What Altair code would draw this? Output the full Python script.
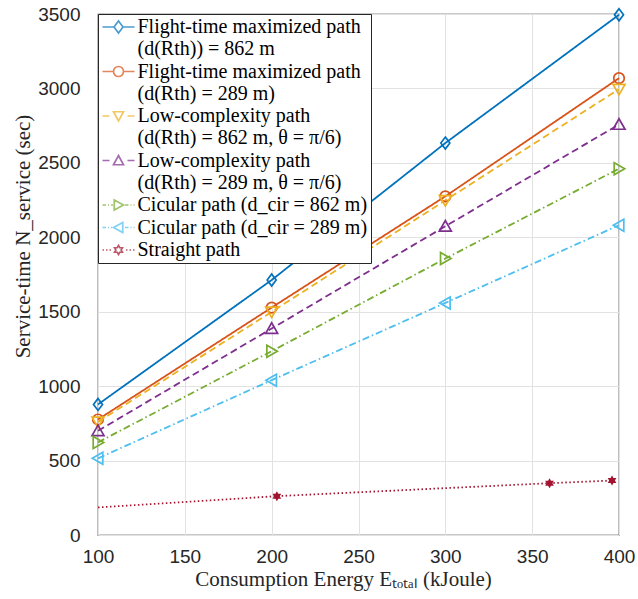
import altair as alt
import pandas as pd

# ---------------- data ----------------
energy = [100, 200, 300, 400]

series_names = [
    "Flight-time maximized path|(d(Rth)) = 862 m",
    "Flight-time maximized path|(d(Rth) = 289 m)",
    "Low-complexity path|(d(Rth) = 862 m, θ = π/6)",
    "Low-complexity path|(d(Rth) = 289 m, θ = π/6)",
    "Cicular path (d_cir = 862 m)",
    "Cicular path (d_cir = 289 m)",
    "Straight path",
]

ft_862 = [877, 1713, 2633, 3495]
ft_289 = [776, 1528, 2275, 3069]
lc_862 = [760, 1499, 2248, 2995]
lc_289 = [700, 1387, 2074, 2758]
circ_862 = [622, 1235, 1857, 2461]
circ_289 = [515, 1040, 1559, 2081]

straight_energy = [100, 203, 360, 396]
straight_time = [185, 261, 348, 366]
straight_marked = [False, True, True, True]

x_ticks = [100, 150, 200, 250, 300, 350, 400]
y_ticks = [0, 500, 1000, 1500, 2000, 2500, 3000, 3500]

# ---------------- styles ----------------
colors = ["#0072BD", "#D95319", "#EDB120", "#7E2F8E", "#77AC30", "#4DBEEE", "#A2142F"]
dashes = [[1, 0], [1, 0], [7, 4], [7, 4], [7, 3, 1.5, 3], [7, 3, 1.5, 3], [1.5, 2.5]]

HEX = ("M0,-1L0.289,-0.5L0.866,-0.5L0.577,0L0.866,0.5L0.289,0.5L0,1"
       "L-0.289,0.5L-0.866,0.5L-0.577,0L-0.866,-0.5L-0.289,-0.5Z")
marker_shapes = [
    "M0,-1L0.75,0L0,1L-0.75,0Z",
    "circle",
    "M-1,-0.8L1,-0.8L0,0.95Z",
    "M-1,0.8L1,0.8L0,-0.95Z",
    "M-0.8,-1L0.95,0L-0.8,1Z",
    "M0.8,-1L-0.95,0L0.8,1Z",
    HEX,
]
marker_sizes = [144, 110, 144, 144, 144, 144, 100]

# legend symbols: line segment pattern + marker (unit = 5 px at size 100)
legend_shapes = [
    "M-3.2,0L-0.9,0M0.9,0L3.2,0M0,-1.2L0.9,0L0,1.2L-0.9,0Z",
    "M-3.2,0L-1,0M1,0L3.2,0M-1,0A1,1,0,1,1,1,0A1,1,0,1,1,-1,0Z",
    "M-3.2,0L-1.8,0M1.8,0L3.2,0M-1,-0.85L1,-0.85L0,1Z",
    "M-3.2,0L-1.8,0M1.8,0L3.2,0M-1,0.85L1,0.85L0,-1Z",
    "M-3.2,0L-2.5,0M-2.1,0L-1.9,0M-1.5,0L-1.1,0M-0.85,-1L1,0L-0.85,1Z"
    "M1.3,0L2.0,0M2.4,0L2.6,0M3.0,0L3.2,0",
    "M-3.2,0L-2.5,0M-2.1,0L-1.9,0M-1.5,0L-1.3,0M0.85,-1L-1,0L0.85,1Z"
    "M1.3,0L2.0,0M2.4,0L2.6,0M3.0,0L3.2,0",
    "M-3.2,0L-2.9,0M-2.5,0L-2.2,0M-1.8,0L-1.5,0"
    "M0,-0.9L0.26,-0.45L0.78,-0.45L0.52,0L0.78,0.45L0.26,0.45L0,0.9"
    "L-0.26,0.45L-0.78,0.45L-0.52,0L-0.78,-0.45L-0.26,-0.45Z"
    "M1.5,0L1.8,0M2.2,0L2.5,0M2.9,0L3.2,0",
]

# ---------------- table ----------------
rows = []
curves = [ft_862, ft_289, lc_862, lc_289, circ_862, circ_289]
for k, ys in enumerate(curves):
    for xv, yv in zip(energy, ys):
        rows.append({"k": k, "series": series_names[k], "energy": xv, "time": yv, "marked": True})
for xv, yv, m in zip(straight_energy, straight_time, straight_marked):
    rows.append({"k": 6, "series": series_names[6], "energy": xv, "time": yv, "marked": m})
df = pd.DataFrame(rows)

# ---------------- encodings ----------------
x_enc = alt.X(
    "energy:Q",
    scale=alt.Scale(domain=[100, 400], nice=False, zero=False),
    axis=alt.Axis(
        values=x_ticks,
        format="d",
        title="Consumption Energy Eₜₒₜₐₗ (kJoule)",
        labelPadding=12,
        titlePadding=2,
        titleX=245,
    ),
)
y_enc = alt.Y(
    "time:Q",
    scale=alt.Scale(domain=[0, 3500], nice=False),
    axis=alt.Axis(
        values=y_ticks,
        format="d",
        title="Service-time N_service (sec)",
        labelPadding=18,
        titlePadding=4,
        titleY=222,
    ),
)

layers = []
for k in range(7):
    ln = (
        alt.Chart(df)
        .transform_filter(alt.datum.k == k)
        .mark_line(strokeWidth=1.8, clip=False, color=colors[k], strokeDash=dashes[k])
        .encode(x=x_enc, y=y_enc)
    )
    layers.append(ln)
for k in range(7):
    p = (
        alt.Chart(df)
        .transform_filter((alt.datum.k == k) & alt.datum.marked)
        .mark_point(
            shape=marker_shapes[k],
            size=marker_sizes[k],
            filled=(k == 6),
            color=colors[k],
            strokeWidth=1.7,
            opacity=1,
            clip=False,
        )
        .encode(x=x_enc, y=y_enc)
    )
    layers.append(p)

legend_def = alt.Legend(
    title=None,
    orient="top-left",
    offset=0,
    padding=3,
    strokeColor="#262626",
    fillColor="white",
    labelFont="Liberation Serif",
    labelFontSize=20,
    labelColor="black",
    labelLimit=500,
    labelExpr="split(datum.label, '|')",
    symbolSize=100,
    symbolStrokeWidth=1.7,
    symbolOffset=7.5,
    labelOffset=9,
    rowPadding=2.5,
)

legend_layer = (
    alt.Chart(df)
    .transform_filter("false")
    .mark_point(filled=False, strokeWidth=1.7)
    .encode(
        x=x_enc,
        y=y_enc,
        color=alt.Color("series:N", scale=alt.Scale(domain=series_names, range=colors), legend=legend_def),
        shape=alt.Shape("series:N", scale=alt.Scale(domain=series_names, range=legend_shapes), legend=legend_def),
    )
)
layers.append(legend_layer)

chart = (
    alt.layer(*layers)
    .properties(
        width=521,
        height=521,
        padding={"left": 98, "top": 14, "right": 19, "bottom": 64},
        autosize=alt.AutoSizeParams(type="none"),
        background="white",
    )
    .configure_view(stroke="#262626", strokeWidth=1.2)
    .configure_axis(
        grid=True,
        gridColor="#e2e2e2",
        gridWidth=1,
        ticks=False,
        tickSize=0,
        domain=False,
        labelFont="Liberation Sans",
        labelFontSize=19,
        labelColor="#262626",
        labelFlush=False,
        labelOverlap=False,
        titleFont="Liberation Serif",
        titleFontSize=21,
        titleFontWeight="normal",
        titleColor="#262626",
    )
)

chart.save("out.html", embed_options={"renderer": "svg", "actions": False})
